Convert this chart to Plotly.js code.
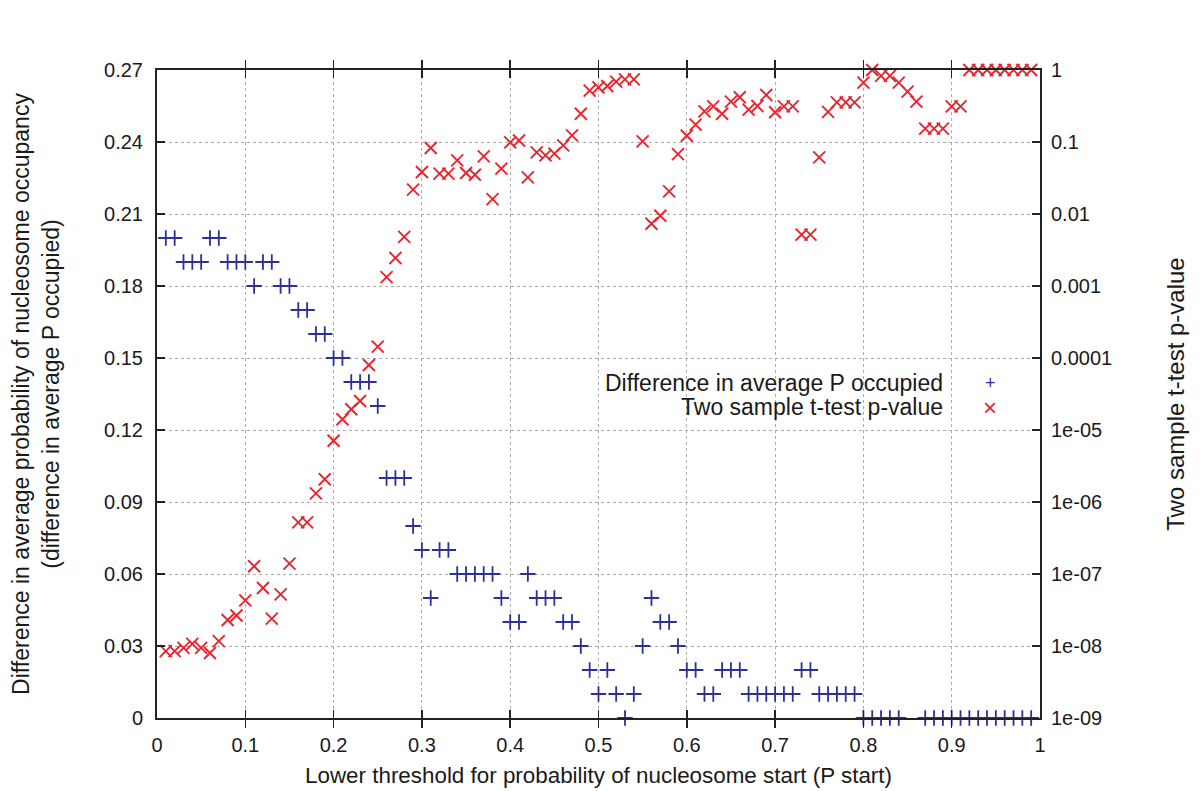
<!DOCTYPE html>
<html>
<head>
<meta charset="utf-8">
<script src="https://cdn.plot.ly/plotly-3.0.1.min.js"></script>
<style>
html,body{margin:0;padding:0;background:#fff;}
#chart{width:1200px;height:791px;}
</style>
</head>
<body>
<div id="chart"></div>
<script>
// Lower threshold for P start (x), 0.01 .. 0.99
const thresholds = [
0.01,0.02,0.03,0.04,0.05,0.06,0.07,0.08,0.09,0.10,
0.11,0.12,0.13,0.14,0.15,0.16,0.17,0.18,0.19,0.20,
0.21,0.22,0.23,0.24,0.25,0.26,0.27,0.28,0.29,0.30,
0.31,0.32,0.33,0.34,0.35,0.36,0.37,0.38,0.39,0.40,
0.41,0.42,0.43,0.44,0.45,0.46,0.47,0.48,0.49,0.50,
0.51,0.52,0.53,0.54,0.55,0.56,0.57,0.58,0.59,0.60,
0.61,0.62,0.63,0.64,0.65,0.66,0.67,0.68,0.69,0.70,
0.71,0.72,0.73,0.74,0.75,0.76,0.77,0.78,0.79,0.80,
0.81,0.82,0.83,0.84,0.85,0.86,0.87,0.88,0.89,0.90,
0.91,0.92,0.93,0.94,0.95,0.96,0.97,0.98,0.99];

// Difference in average P occupied (left axis); null = outside shown range
const diffOccupied = [
0.20,0.20,0.19,0.19,0.19,0.20,0.20,0.19,0.19,0.19,
0.18,0.19,0.19,0.18,0.18,0.17,0.17,0.16,0.16,0.15,
0.15,0.14,0.14,0.14,0.13,0.10,0.10,0.10,0.08,0.07,
0.05,0.07,0.07,0.06,0.06,0.06,0.06,0.06,0.05,0.04,
0.04,0.06,0.05,0.05,0.05,0.04,0.04,0.03,0.02,0.01,
0.02,0.01,0.00,0.01,0.03,0.05,0.04,0.04,0.03,0.02,
0.02,0.01,0.01,0.02,0.02,0.02,0.01,0.01,0.01,0.01,
0.01,0.01,0.02,0.02,0.01,0.01,0.01,0.01,0.01,0.00,
0.00,0.00,0.00,0.00,null,null,0.00,0.00,0.00,0.00,
0.00,0.00,0.00,0.00,0.00,0.00,0.00,0.00,0.00];

// Two sample t-test p-value (right axis, log)
const pValues = [
8.5e-9,8.5e-9,9.4e-9,1.07e-8,9.4e-9,8.0e-9,1.17e-8,2.3e-8,2.65e-8,4.3e-8,
1.28e-7,6.4e-8,2.4e-8,5.2e-8,1.39e-7,5.2e-7,5.2e-7,1.32e-6,2.07e-6,7.1e-6,
1.41e-5,1.94e-5,2.53e-5,8.0e-5,1.44e-4,1.33e-3,2.45e-3,4.8e-3,0.0218,0.0383,
0.0826,0.0363,0.0363,0.0555,0.0371,0.0351,0.063,0.0161,0.0426,0.0987,
0.105,0.0322,0.0717,0.0652,0.0688,0.0897,0.1236,0.247,0.516,0.575,
0.60,0.69,0.74,0.74,0.102,0.00733,0.00946,0.0206,0.068,0.122,
0.174,0.266,0.313,0.247,0.363,0.418,0.281,0.316,0.45,0.259,
0.313,0.313,0.00516,0.00516,0.0611,0.262,0.355,0.355,0.355,0.667,
1.0,0.83,0.83,0.667,0.50,0.363,0.153,0.153,0.153,0.313,
0.313,1.0,1.0,1.0,1.0,1.0,1.0,1.0,1.0];

const y2TickVals = [1e-9,1e-8,1e-7,1e-6,1e-5,1e-4,1e-3,1e-2,1e-1,1];
const y2TickText = ["1e-09","1e-08","1e-07","1e-06","1e-05","0.0001","0.001","0.01","0.1","1"];

const seriesNames = ["Difference in average P occupied","Two sample t-test p-value"];
const blue = "#2b2f96";
const red = "#e6262f";

const fam = "Liberation Sans, Arial, sans-serif";
const tickFont = {family:fam, size:20, color:"#1a1a1a"};
const xTitleFont = {family:fam, size:22.4, color:"#1a1a1a"};
const yTitleFont = {family:fam, size:23, color:"#1a1a1a"};
const y2TitleFont = {family:fam, size:24, color:"#1a1a1a"};
const legFont = {family:fam, size:23, color:"#1a1a1a"};

const traces = [
  {x:thresholds, y:diffOccupied, type:"scatter", mode:"markers", name:seriesNames[0],
   marker:{symbol:"cross-thin-open", size:11, color:blue, line:{color:blue, width:1.8}},
   yaxis:"y", cliponaxis:false},
  {x:thresholds, y:pValues, type:"scatter", mode:"markers", name:seriesNames[1],
   marker:{symbol:"x-thin-open", size:12, color:red, line:{color:red, width:1.9}},
   yaxis:"y2", cliponaxis:false}
];

const layout = {
  width:1200, height:791,
  margin:{l:157, r:160, t:70, b:73},
  paper_bgcolor:"#fff", plot_bgcolor:"#fff",
  font:tickFont,
  showlegend:false,
  xaxis:{range:[0,1], dtick:0.1, tick0:0, ticks:"inside", ticklen:8, tickwidth:1.5, tickcolor:"#222",
         showline:true, linecolor:"#222", linewidth:2, mirror:"allticks", ticklabelstandoff:8,
         showgrid:true, gridcolor:"#ababab", griddash:"dot", gridwidth:1, zeroline:false,
         title:{text:"Lower threshold for probability of nucleosome start (P start)", font:xTitleFont, standoff:12},
         tickfont:tickFont, automargin:false},
  yaxis:{range:[0,0.27], dtick:0.03, tick0:0, ticks:"inside", ticklen:8, tickwidth:1.5, tickcolor:"#222",
         showline:true, linecolor:"#222", linewidth:2, mirror:true, ticklabelstandoff:8,
         showgrid:true, gridcolor:"#ababab", griddash:"dot", gridwidth:1, zeroline:false,
         title:{text:"Difference in average probability of nucleosome occupancy<br>(difference in average P occupied)", font:yTitleFont, standoff:38},
         tickfont:tickFont, automargin:false},
  yaxis2:{type:"log", range:[-9,0], overlaying:"y", side:"right",
          tickvals:y2TickVals, ticktext:y2TickText, ticklabelstandoff:5,
          ticks:"inside", ticklen:8, tickwidth:1.5, tickcolor:"#222",
          showline:true, linecolor:"#222", linewidth:2, showgrid:false, zeroline:false,
          title:{text:"Two sample t-test p-value", font:y2TitleFont, standoff:56},
          tickfont:tickFont, automargin:false},
  annotations:[
    {xref:"paper", yref:"paper", x:(945-157)/883, y:(718-383)/648, xanchor:"right", yanchor:"middle",
     text:seriesNames[0], showarrow:false, font:legFont},
    {xref:"paper", yref:"paper", x:(945-157)/883, y:(718-407)/648, xanchor:"right", yanchor:"middle",
     text:seriesNames[1], showarrow:false, font:legFont},
    {xref:"paper", yref:"paper", x:(990-157)/883, y:(718-383)/648, xanchor:"center", yanchor:"middle",
     text:"+", showarrow:false, font:{family:fam, size:18, color:blue}},
    {xref:"paper", yref:"paper", x:(990-157)/883, y:(718-407)/648, xanchor:"center", yanchor:"middle",
     text:"×", showarrow:false, font:{family:fam, size:24, color:red}}
  ]
};

Plotly.newPlot("chart", traces, layout, {displayModeBar:false, staticPlot:true});
</script>
</body>
</html>
